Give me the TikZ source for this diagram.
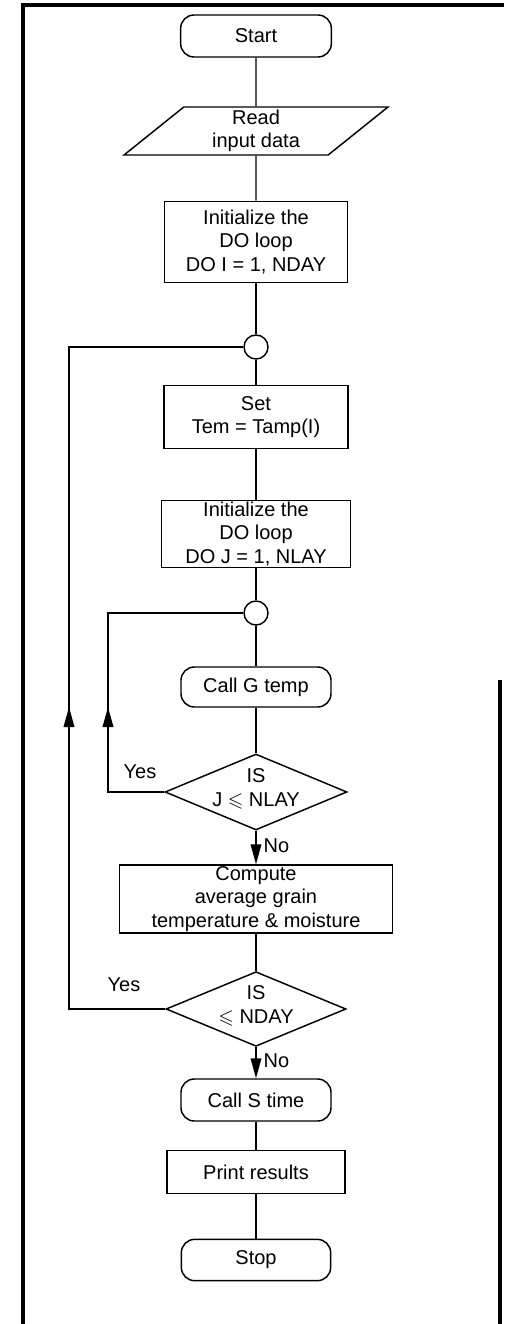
\documentclass[tikz,border=0pt]{standalone}
\usepackage{fontspec}
\usepackage{amssymb}
\setmainfont{Liberation Sans}
\usetikzlibrary{shapes.geometric,arrows.meta}

\tikzset{
  base/.style={draw, line width=1.1pt, align=center, inner sep=1pt},
  term/.style={base, rounded corners=10pt},
  proc/.style={base, rectangle},
  io/.style={base, trapezium, trapezium left angle=50, trapezium right angle=130,
    trapezium stretches=true},
  joint/.style={draw, line width=1.1pt, circle, minimum size=18pt, inner sep=0pt},
  decision/.style={draw, line width=1.1pt, diamond, inner sep=0pt},
  flow/.style={line width=1.1pt},
  arr/.style={flow, -{Triangle[length=15pt,width=8pt]}},
  lbl/.style={inner sep=1pt}
}

\begin{document}
\begin{tikzpicture}[x=0.75pt, y=-0.75pt,
  every node/.append style={font=\fontsize{15}{17.5}\selectfont}]
  \useasboundingbox (0,0) rectangle (504,1324);

  % frame
  \draw[line width=3pt] (23,1324) -- (23,5) -- (504,5);
  \draw[line width=2.5pt] (500,680) -- (500,1324);

  % outer loop over days
  \node[term, minimum width=113pt, minimum height=31.5pt] (start) at (256,36) {Start};
  \node[io, minimum width=198pt, minimum height=36pt] (read) at (256,131) {Read\\input data};
  \node[proc, minimum width=137pt, minimum height=61pt] (initI) at (256,242)
    {Initialize the\\DO loop\\DO I = 1, NDAY};
  \node[joint] (c1) at (256,347) {};
  \node[proc, minimum width=138pt, minimum height=47pt] (set) at (256,417)
    {Set\\Tem = Tamp(I)};

  % inner loop over layers
  \node[proc, minimum width=142pt, minimum height=50pt] (initJ) at (256,534)
    {Initialize the\\DO loop\\DO J = 1, NLAY};
  \node[joint] (c2) at (256,613) {};
  \node[term, minimum width=112.5pt, minimum height=30pt] (callG) at (256,687) {Call G temp};
  \node[decision, minimum width=136.5pt, minimum height=57pt] (d1) at (256,792) {};
  \node[lbl, align=center] (d1txt) at (256,789) {IS\\J $\leqslant$ NLAY};

  \node[proc, minimum width=205pt, minimum height=51pt] (compute) at (256,899)
    {Compute\\average grain\\temperature \& moisture};
  \node[decision, minimum width=135pt, minimum height=56pt] (d2) at (256,1009) {};
  \node[lbl, align=center] (d2txt) at (256,1006) {IS\\$\leqslant$ NDAY};

  % end
  \node[term, minimum width=112.5pt, minimum height=31.5pt] (callS) at (256,1100) {Call S time};
  \node[proc, minimum width=133.5pt, minimum height=32pt] (print) at (256,1172) {Print results};
  \node[term, minimum width=112pt, minimum height=31pt] (stop) at (256,1260) {Stop};

  % labels
  \node[lbl] (yes1) at (140,772) {Yes};
  \node[lbl] (yes2) at (124,985) {Yes};
  \node[lbl, anchor=west] (no1) at (262,846) {No};
  \node[lbl, anchor=west] (no2) at (262,1061) {No};

  % main line
  \draw[flow] (start) -- (read);
  \draw[flow] (read) -- (initI);
  \draw[flow] (initI) -- (c1);
  \draw[flow] (c1) -- (set);
  \draw[flow] (set) -- (initJ);
  \draw[flow] (initJ) -- (c2);
  \draw[flow] (c2) -- (callG);
  \draw[flow] (callG) -- (d1);
  \draw[arr] (d1.south) -- (compute.north);
  \draw[flow] (compute) -- (d2);
  \draw[arr] (d2.south) -- (callS.north);
  \draw[flow] (callS) -- (print);
  \draw[flow] (print) -- (stop);

  % loop back J
  \coordinate (in1) at (108,792);
  \coordinate (in2) at (108,613);
  \coordinate (inA) at (108,707);
  \draw[flow] (d1.west) -- (in1) -- (in2) -- (c2.west);
  \draw[arr] (in1) -- (inA);

  % loop back I
  \coordinate (out1) at (69,1009);
  \coordinate (out2) at (69,347);
  \coordinate (outA) at (69,707);
  \draw[flow] (d2.west) -- (out1) -- (out2) -- (c1.west);
  \draw[arr] (out1) -- (outA);
\end{tikzpicture}
\end{document}
